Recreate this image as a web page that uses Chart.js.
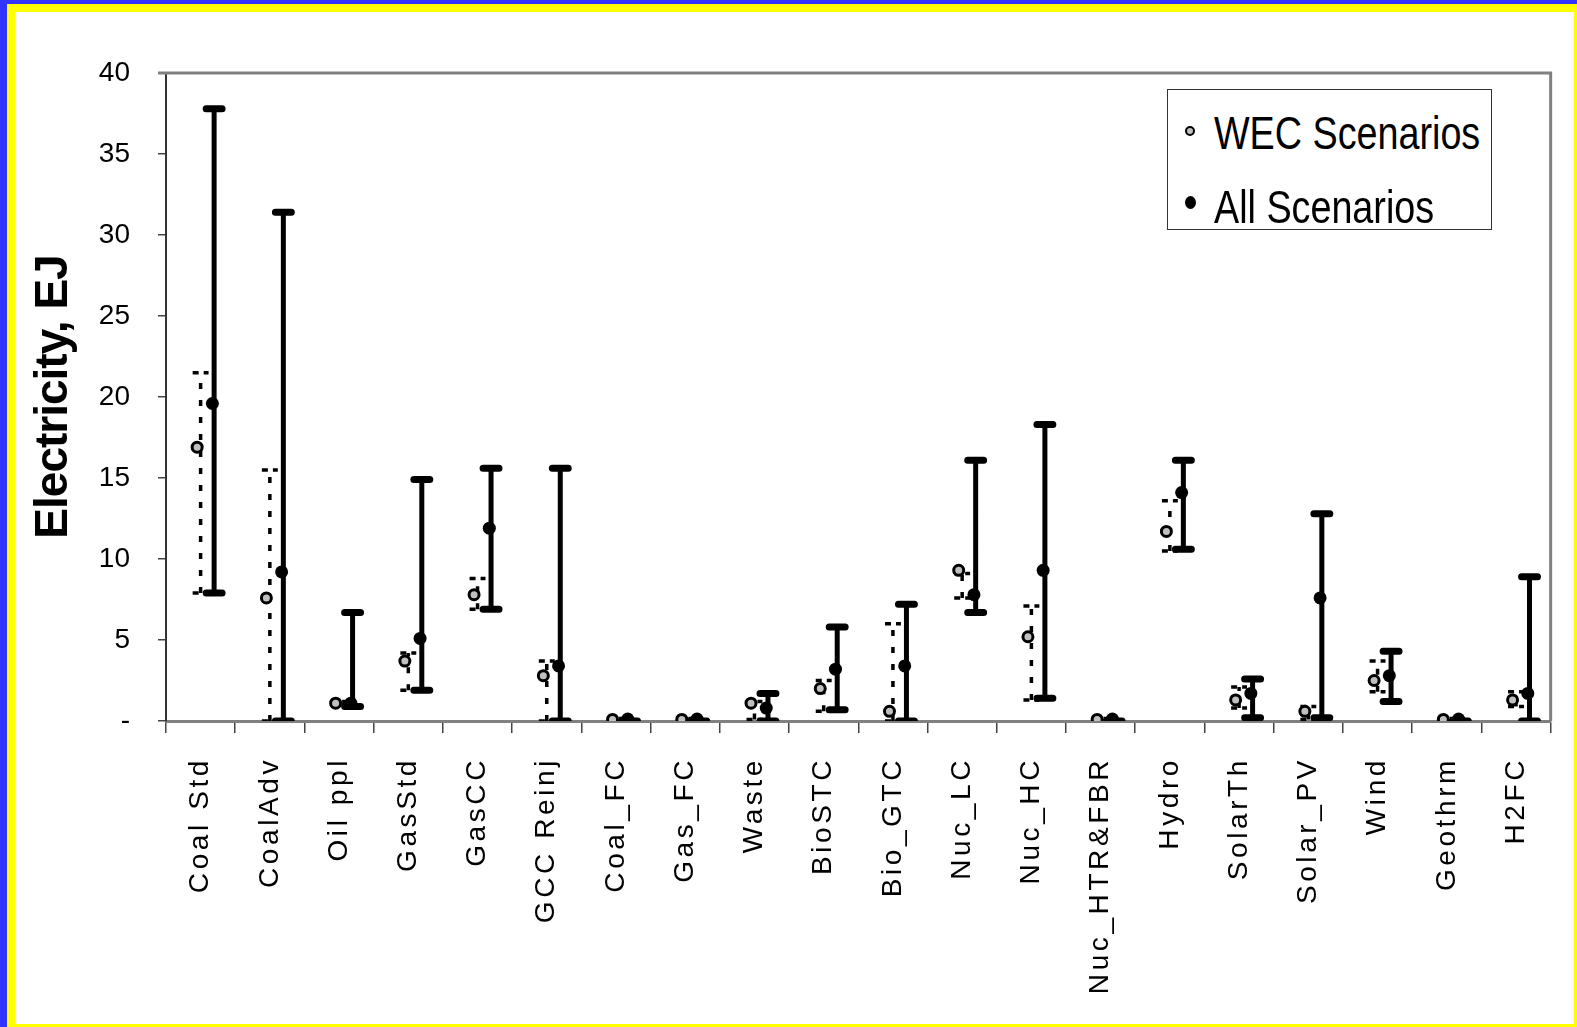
<!DOCTYPE html>
<html>
<head>
    <title>Electricity by technology</title>
    <script src="https://cdn.jsdelivr.net/npm/chart.js"></script>
    <style>
        body {
            margin: 0;
            background: #fff;
        }
        #frame {
            position: absolute;
            left: 0;
            top: 0;
            width: 1577px;
            height: 1027px;
            box-sizing: border-box;
            background: #3333ff;
            padding: 4px 0 0 7px;
        }
        #inner {
            position: relative;
            box-sizing: border-box;
            width: 100%;
            height: 100%;
            background: #fff;
            border: solid #ffff00;
            border-width: 8px 3px 3px 8px;
        }
        canvas {
            position: absolute;
            left: 0;
            top: 0;
        }
        #legend {
            position: absolute;
            left: 1152px;
            top: 77px;
            width: 325px;
            height: 141px;
            box-sizing: border-box;
            border: 1px solid #333;
            background: #fff;
            font-family: 'Liberation Sans', Arial, sans-serif;
            font-size: 46px;
            line-height: 46px;
            color: #000;
        }
        #legend .txt {
            position: absolute;
            left: 46px;
            white-space: nowrap;
            transform: scaleX(0.82);
            transform-origin: 0 0;
        }
        #legend .dot {
            position: absolute;
            border-radius: 50%;
            box-sizing: border-box;
        }
    </style>
</head>
<body>
<div id="frame">
    <div id="inner">
        <canvas id="elecChart" width="1559" height="1012"></canvas>
        <div id="legend">
            <div class="dot" style="left:17px; top:36px; width:10px; height:10px; background:#c0c0c0; border:2px solid #000;"></div>
            <div class="txt" style="top:20px;">WEC Scenarios</div>
            <div class="dot" style="left:17px; top:106px; width:11px; height:13px; background:#000;"></div>
            <div class="txt" style="top:94px;">All Scenarios</div>
        </div>
    </div>
</div>

<script>
    const categories = ['Coal Std', 'CoalAdv', 'Oil ppl', 'GasStd', 'GasCC', 'GCC Reinj', 'Coal_FC', 'Gas_FC',
        'Waste', 'BioSTC', 'Bio_GTC', 'Nuc_LC', 'Nuc_HC', 'Nuc_HTR&FBR', 'Hydro', 'SolarTh', 'Solar_PV',
        'Wind', 'Geothrm', 'H2FC'];

    // WEC scenarios: central value and range (EJ)
    const wecMid = [16.9, 7.6, 1.1, 3.7, 7.8, 2.8, 0.1, 0.1, 1.1, 2.0, 0.6, 9.3, 5.2, 0.1, 11.7, 1.3, 0.6, 2.5, 0.1, 1.3];
    const wecMin = [7.9, 0, 1.0, 1.9, 6.9, 0, 0.05, 0.05, 0.1, 0.6, 0, 7.6, 1.3, 0.05, 10.5, 0.8, 0.1, 1.8, 0.05, 0.9];
    const wecMax = [21.5, 15.5, 1.2, 4.2, 8.8, 3.7, 0.15, 0.15, 1.2, 2.5, 6.0, 9.1, 7.1, 0.15, 13.6, 2.1, 0.9, 3.7, 0.15, 1.8];

    // All scenarios: central value and range (EJ)
    const allMid = [19.6, 9.2, 1.1, 5.1, 11.9, 3.4, 0.12, 0.12, 0.8, 3.2, 3.4, 7.8, 9.3, 0.12, 14.1, 1.7, 7.6, 2.8, 0.12, 1.7];
    const allMin = [7.9, 0, 0.9, 1.9, 6.9, 0, 0, 0, 0, 0.7, 0, 6.7, 1.4, 0, 10.6, 0.2, 0.2, 1.2, 0, 0];
    const allMax = [37.8, 31.4, 6.7, 14.9, 15.6, 15.6, 0, 0, 1.7, 5.8, 7.2, 16.1, 18.3, 0, 16.1, 2.6, 12.8, 4.3, 0, 8.9];

    const yTicks = [0, 5, 10, 15, 20, 25, 30, 35, 40];

    // horizontal offsets inside a category slot (slot width = 1)
    const WEC_PT = -0.05, WEC_BAR = 0, ALL_PT = 0.17, ALL_BAR = 0.195, CAP = 0.115;

    function points(vals, dx) {
        return vals.map((v, i) => ({ x: i + dx, y: v }));
    }
    function stems(lo, hi, dx) {
        const out = [];
        lo.forEach((v, i) => {
            out.push({ x: i + dx, y: v }, { x: i + dx, y: hi[i] }, { x: i + dx, y: null });
        });
        return out;
    }
    function caps(lo, hi, dx) {
        const out = [];
        lo.forEach((v, i) => {
            [v, hi[i]].forEach(y => {
                out.push({ x: i + dx - CAP, y: y }, { x: i + dx + CAP, y: y }, { x: i + dx, y: null });
            });
        });
        return out;
    }

    const segStyle = { xAxisID: 'xv', showLine: true, pointRadius: 0, spanGaps: false, fill: false, borderColor: '#000' };

    // wrap a scale method so its text is drawn with different letter spacing
    function spaced(scale, fn, sp) {
        if (!scale || scale['_sp_' + fn]) return;
        const orig = scale[fn];
        scale['_sp_' + fn] = true;
        scale[fn] = function (area) {
            const c = this.ctx;
            c.save();
            c.letterSpacing = sp;
            orig.call(this, area);
            c.restore();
        };
    }
    const spacedText = {
        id: 'spacedText',
        afterLayout(chart) {
            spaced(chart.scales.x, 'drawLabels', '3.6px');
            spaced(chart.scales.y, 'drawTitle', '-1px');
        }
    };

    const plotFrame = {
        id: 'plotFrame',
        beforeDatasetsDraw(chart) {
            const { ctx, chartArea: { left, top, right, bottom } } = chart;
            ctx.save();
            ctx.strokeStyle = '#808080';
            ctx.lineWidth = 3;
            ctx.beginPath();
            ctx.moveTo(left - 8, top);
            ctx.lineTo(right, top);
            ctx.lineTo(right, bottom);
            ctx.stroke();
            ctx.restore();
        }
    };

    Chart.defaults.font.family = "'Liberation Sans', Arial, sans-serif";
    Chart.defaults.color = '#000';

    const ctx = document.getElementById('elecChart').getContext('2d');
    new Chart(ctx, {
        type: 'line',
        data: {
            labels: categories,
            datasets: [
                {
                    label: 'All Scenarios', data: points(allMid, ALL_PT), xAxisID: 'xv', showLine: false,
                    pointRadius: 6.5, pointBackgroundColor: '#000', pointBorderColor: '#000', pointBorderWidth: 0
                },
                Object.assign({ label: 'All caps', data: caps(allMin, allMax, ALL_BAR), borderWidth: 7, borderCapStyle: 'round' }, segStyle),
                Object.assign({ label: 'All range', data: stems(allMin, allMax, ALL_BAR), borderWidth: 5, borderCapStyle: 'butt' }, segStyle),
                {
                    label: 'WEC Scenarios', data: points(wecMid, WEC_PT), xAxisID: 'xv', showLine: false,
                    pointRadius: 5, pointBackgroundColor: '#c0c0c0', pointBorderColor: '#000', pointBorderWidth: 3
                },
                Object.assign({ label: 'WEC caps', data: caps(wecMin, wecMax, WEC_BAR), borderWidth: 3.5, borderDash: [6, 5] }, segStyle),
                Object.assign({ label: 'WEC range', data: stems(wecMin, wecMax, WEC_BAR), borderWidth: 3.5, borderDash: [6, 11] }, segStyle)
            ]
        },
        options: {
            responsive: false,
            animation: false,
            events: [],
            layout: { padding: { left: 0, top: 61, right: 15, bottom: 0 } },
            plugins: {
                legend: { display: false },
                tooltip: { enabled: false }
            },
            scales: {
                x: {
                    type: 'category',
                    labels: categories,
                    offset: true,
                    afterFit(scale) { scale.height = 303; },
                    grid: { offset: true, drawOnChartArea: false, tickLength: 12, color: '#444', lineWidth: 1.5 },
                    border: { color: '#808080', width: 3 },
                    ticks: {
                        autoSkip: false, minRotation: 90, maxRotation: 90, padding: 24,
                        font: { size: 28 }, color: '#000'
                    }
                },
                xv: { type: 'linear', min: -0.5, max: 19.5, display: false },
                y: {
                    min: 0,
                    max: 40,
                    afterFit(scale) { scale.width = 151; },
                    afterBuildTicks(scale) { scale.ticks = yTicks.map(v => ({ value: v })); },
                    grid: { drawOnChartArea: false, tickLength: 8, color: '#444', lineWidth: 1.5 },
                    border: { color: '#333', width: 2 },
                    ticks: {
                        padding: 28,
                        font: { size: 28 },
                        callback: v => (v === 0 ? '-' : v)
                    },
                    title: {
                        display: true,
                        text: 'Electricity, EJ',
                        font: { size: 46, weight: 'bold' },
                        padding: { top: 12, bottom: 0 }
                    }
                }
            }
        },
        plugins: [spacedText, plotFrame]
    });
</script>
</body>
</html>
